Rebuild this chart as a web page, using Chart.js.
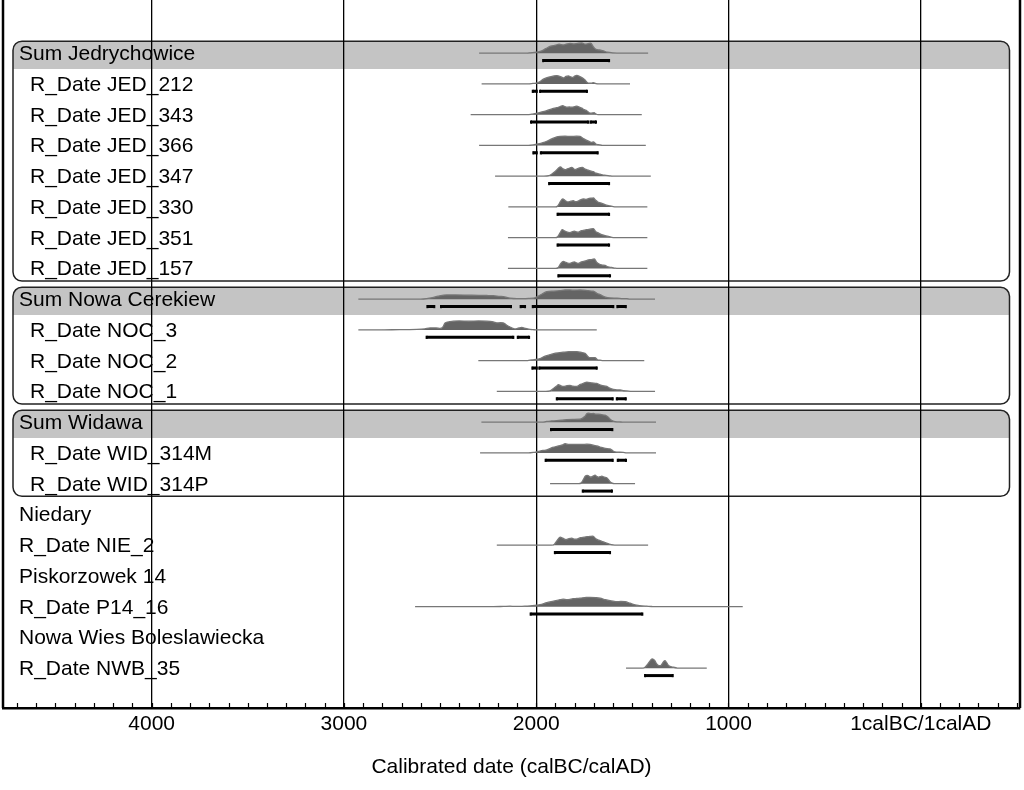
<!DOCTYPE html>
<html><head><meta charset="utf-8">
<script src="https://cdn.jsdelivr.net/npm/chart.js@4.4.1/dist/chart.umd.min.js"></script>
<style>html,body{margin:0;padding:0;background:#fff}canvas{display:block}</style>
</head><body>
<canvas id="c" width="1024" height="790"></canvas>
<script>
// ---------- labels ----------
const rowLabels = [
  "Sum Jedrychowice","R_Date JED_212","R_Date JED_343","R_Date JED_366","R_Date JED_347",
  "R_Date JED_330","R_Date JED_351","R_Date JED_157",
  "Sum Nowa Cerekiew","R_Date NOC_3","R_Date NOC_2","R_Date NOC_1",
  "Sum Widawa","R_Date WID_314M","R_Date WID_314P",
  "Niedary","R_Date NIE_2","Piskorzowek 14","R_Date P14_16",
  "Nowa Wies Boleslawiecka","R_Date NWB_35"
];
const rowIndent = [0,1,1,1,1,1,1,1, 0,1,1,1, 0,1,1, 0,0,0,0,0,0];
const groupRows = [[0,7],[8,11],[12,14]];
const majorTicks = [4000,3000,2000,1000,0];
const zeroLabel = "1calBC/1calAD";
const axisTitle = "Calibrated date (calBC/calAD)";

// ---------- probability distributions: [year calBC, relative density] ----------
const sumJed = [[2297,0],[2050,0],[2030,0.4],[2000,1],[1975,2],[1950,4.5],[1925,7],[1900,8],[1881,9],[1860,8.3],[1840,9.3],[1824,9.8],[1805,9.2],[1785,9.8],[1763,10.3],[1745,9],[1730,9.5],[1716,10],[1705,7],[1690,4],[1670,3.2],[1650,2.2],[1630,1],[1600,0.3],[1560,0],[1418,0]];
const jed212 = [[2284,0],[2040,0],[2017,0.5],[1995,1],[1980,2.5],[1960,5],[1930,7],[1893,8.3],[1870,7],[1859,6],[1845,7.5],[1833,8],[1820,7],[1810,6.5],[1800,7.8],[1789,8.5],[1770,7],[1755,5.5],[1746,4],[1735,1.5],[1725,0.8],[1712,0.8],[1703,1.3],[1690,0.4],[1675,0],[1512,0]];
const jed343 = [[2341,0],[2045,0],[2023,0.5],[2000,1.2],[1975,2.5],[1945,4],[1915,6],[1893,7],[1875,8.2],[1862,9],[1850,8],[1841,7.5],[1828,7.8],[1815,7.5],[1800,8],[1789,8.5],[1775,7.5],[1763,6.5],[1750,5],[1737,4],[1725,2],[1716,1.5],[1705,1.8],[1699,2],[1690,0.8],[1679,0],[1451,0]];
const jed366 = [[2297,0],[2040,0],[2015,0.5],[1990,1.5],[1965,2.8],[1945,4.2],[1920,6.5],[1893,8.5],[1876,9],[1850,9.2],[1820,9],[1790,9.3],[1772,9],[1755,7],[1737,5],[1720,3.5],[1711,3],[1703,3.5],[1690,1.5],[1677,0.8],[1660,0.2],[1650,0],[1430,0]];
const jed347 = [[2214,0],[1960,0],[1935,0.5],[1920,2],[1900,5],[1885,8],[1874,9.2],[1862,7.5],[1850,6.5],[1835,7.5],[1815,8.7],[1805,7.5],[1798,6.5],[1785,7.5],[1770,8.5],[1760,8.7],[1745,7],[1729,6],[1715,5],[1703,4.5],[1690,3],[1668,2],[1645,1],[1620,0.4],[1600,0],[1404,0]];
const jed330 = [[2145,0],[1900,0],[1888,1],[1875,5],[1862,8],[1850,6.5],[1835,5],[1820,5.8],[1807,6.2],[1795,5.2],[1785,5.5],[1770,7],[1755,8],[1740,7.5],[1725,8.5],[1710,8.8],[1703,9],[1692,7],[1680,5],[1665,4],[1651,3],[1635,1.8],[1616,1],[1600,0.3],[1585,0],[1422,0]];
const jed351 = [[2147,0],[1900,0],[1888,1],[1875,5],[1865,8],[1850,6.5],[1824,5],[1812,6],[1802,6.5],[1790,5.8],[1781,5.5],[1765,7],[1750,7.5],[1737,8],[1720,8.5],[1703,9],[1690,6],[1680,5],[1660,3],[1642,2],[1620,1],[1607,0.3],[1590,0],[1422,0]];
const jed157 = [[2147,0],[1900,0],[1885,1],[1872,5],[1859,7],[1845,6],[1824,5],[1812,6],[1802,6.5],[1790,5.5],[1781,5],[1765,6.5],[1745,7.5],[1729,8.5],[1715,8.8],[1698,9.5],[1685,6],[1677,5],[1660,3.5],[1642,3],[1625,1.5],[1607,1],[1590,0.3],[1573,0],[1422,0]];
const sumNoc = [[2925,0],[2600,0],[2570,0.5],[2540,1.5],[2510,3],[2466,4.3],[2420,4.3],[2350,4],[2300,3.8],[2258,3.7],[2223,3.5],[2190,2.8],[2171,2.5],[2136,1],[2100,0.5],[2075,0.5],[2040,0.8],[2015,1],[1990,3],[1971,5],[1945,7.5],[1910,8],[1876,8.5],[1850,9.2],[1824,9.3],[1800,9],[1772,9.2],[1755,9],[1730,8.5],[1703,8],[1685,6],[1668,4.5],[1640,2],[1616,1.2],[1580,1],[1550,0.6],[1529,0.5],[1512,0],[1382,0]];
const noc3 = [[2925,0],[2864,0],[2750,0.2],[2620,0.5],[2580,1],[2552,2],[2520,2],[2500,1.5],[2485,3],[2474,7],[2450,8.3],[2431,8.8],[2400,9],[2350,8.8],[2300,9],[2258,8.8],[2240,8.5],[2223,8],[2205,7],[2185,7.2],[2171,7],[2155,5],[2136,3],[2120,1.5],[2110,1],[2090,2],[2075,2.5],[2055,1.5],[2032,0.5],[2010,0.2],[1997,0],[1685,0]];
const noc2 = [[2301,0],[2050,0],[2032,0.5],[2010,1],[1980,2],[1960,4],[1928,6],[1900,7.5],[1859,8.5],[1830,9],[1789,9],[1760,8],[1746,7.5],[1730,4],[1720,3],[1708,3],[1694,3],[1682,1],[1668,0.5],[1650,0],[1438,0]];
const noc1 = [[2205,0],[1950,0],[1928,0.5],[1910,3],[1893,5.5],[1885,6.7],[1870,5.5],[1859,5],[1840,5.8],[1824,6],[1810,5.2],[1789,5],[1770,7],[1750,8.5],[1737,9.4],[1710,8.5],[1685,8],[1660,6],[1633,5],[1615,3],[1599,2],[1580,1.5],[1564,1.5],[1545,0.7],[1529,0.5],[1503,0],[1382,0]];
const sumWid = [[2285,0],[1970,0],[1946,0.8],[1920,1.2],[1893,1.5],[1865,2],[1841,2.5],[1810,2.8],[1772,3],[1760,4],[1746,6],[1737,8.5],[1729,9],[1715,8.5],[1703,8.7],[1690,8],[1677,8],[1660,7.5],[1642,7],[1625,5],[1616,3],[1600,1],[1590,0.5],[1560,0.2],[1529,0],[1377,0]];
const wid314M = [[2292,0],[2040,0],[2015,0.5],[1990,1.5],[1965,2.5],[1945,3],[1915,5.5],[1885,7],[1862,8],[1850,9.3],[1830,8.5],[1800,8.5],[1789,8.5],[1760,8.5],[1737,8.8],[1720,8.5],[1700,7.5],[1685,7],[1660,5.5],[1640,4.5],[1616,4],[1600,2],[1590,1],[1565,0.7],[1547,0.5],[1530,0],[1377,0]];
const wid314P = [[1928,0],[1780,0],[1765,1],[1755,4],[1745,7.5],[1734,8.3],[1725,7.5],[1716,6.5],[1705,7.5],[1694,8.5],[1685,7.2],[1677,6.5],[1668,7],[1659,7.5],[1645,6.5],[1633,6],[1622,3.5],[1616,2],[1605,0.5],[1595,0],[1486,0]];
const nie2 = [[2205,0],[1920,0],[1905,1],[1890,5],[1875,8],[1862,7],[1845,5.5],[1830,6.5],[1815,7],[1800,6],[1790,6],[1770,7.5],[1750,8],[1735,8.5],[1720,8.8],[1705,9],[1690,6.5],[1675,5],[1655,3.5],[1640,2.5],[1620,1.2],[1600,0.3],[1585,0],[1418,0]];
const p14_16 = [[2630,0],[2250,0],[2170,0.3],[2136,0.5],[2110,0.3],[2084,0.3],[2050,0.6],[2032,0.8],[2000,1.5],[1980,2],[1945,4],[1910,5.5],[1876,7],[1860,7.5],[1841,7],[1820,7.5],[1807,8],[1790,8.2],[1772,8.5],[1740,9.2],[1720,9.3],[1690,9],[1668,8.5],[1640,7],[1616,6],[1600,5.5],[1581,5],[1560,5.2],[1538,5],[1512,3.5],[1490,2],[1477,1.5],[1450,0.8],[1425,0.5],[1400,0.2],[1373,0],[926,0]];
const nwb35 = [[1533,0],[1450,0],[1434,1],[1420,4],[1405,8],[1396,9.3],[1385,8],[1372,4],[1361,2.5],[1350,3],[1338,6.5],[1330,7.5],[1320,5],[1313,3],[1300,1.5],[1287,1],[1270,0.3],[1261,0],[1113,0]];

// ---------- 95.4% ranges: [from, to] calBC ----------
const sumJedR = [[1964,1621]];
const jed212R = [[2018,1997],[1980,1736]];
const jed343R = [[2027,1729],[1717,1689]];
const jed366R = [[2015,1997],[1976,1680]];
const jed347R = [[1933,1621]];
const jed330R = [[1889,1621]];
const jed351R = [[1889,1621]];
const jed157R = [[1885,1616]];
const sumNocR = [[2566,2530],[2495,2131],[2081,2058],[2018,1599],[1578,1534]];
const noc3R = [[2570,2119],[2096,2037]];
const noc2R = [[2020,1997],[1984,1685]];
const noc1R = [[1893,1602],[1581,1534]];
const sumWidR = [[1923,1604]];
const wid314MR = [[1951,1602],[1576,1533]];
const wid314PR = [[1758,1606]];
const nie2R = [[1903,1616]];
const p14_16R = [[2029,1448]];
const nwb35R = [[1434,1290]];

// row index -> [distribution, ranges]
const plotted = [
  [0,sumJed,sumJedR],[1,jed212,jed212R],[2,jed343,jed343R],[3,jed366,jed366R],[4,jed347,jed347R],
  [5,jed330,jed330R],[6,jed351,jed351R],[7,jed157,jed157R],
  [8,sumNoc,sumNocR],[9,noc3,noc3R],[10,noc2,noc2R],[11,noc1,noc1R],
  [12,sumWid,sumWidR],[13,wid314M,wid314MR],[14,wid314P,wid314PR],
  [16,nie2,nie2R],[18,p14_16,p14_16R],[20,nwb35,nwb35R]
];

// ---------- build ----------
const DENS = 1/30.75;   // density unit -> row fraction
const BAR_OFF = 0.24;   // range bar below baseline (rows)
const FONT = "'Liberation Sans', Arial, Helvetica, sans-serif";
const FS = 21;

const datasets = [];
plotted.forEach(([row, dist]) => {
  datasets.push({
    data: dist.map(([x,h]) => ({x, y: row - h*DENS})),
    fill: {value: row},
    backgroundColor: '#646464',
    borderColor: '#777777',
    borderWidth: 1.3,
    pointRadius: 0,
    cubicInterpolationMode: 'monotone'
  });
});
plotted.forEach(([row, , rng]) => {
  const pts = [];
  rng.forEach(([a,b], i) => {
    if (i) pts.push({x: (rng[i-1][1] + a)/2, y: null});
    pts.push({x:a, y: row + BAR_OFF}, {x:b, y: row + BAR_OFF});
  });
  datasets.push({
    data: pts, fill: false, spanGaps: false,
    borderColor: '#000', borderWidth: 3, borderCapStyle: 'butt',
    pointStyle: 'line', rotation: 90, pointRadius: 1.6,
    pointBorderWidth: 2, pointBorderColor: '#000', pointBackgroundColor: '#000'
  });
});

const decor = {
  id: 'decor',
  beforeDraw(chart) {
    const {ctx, chartArea: a, scales: {y}} = chart;
    ctx.save();
    const L = a.left + 10, R = a.right - 10.5, rad = 9;
    groupRows.forEach(([s,e]) => {
      const top = y.getPixelForValue(s - 0.39);
      const band = y.getPixelForValue(s + 0.51);
      const bot = y.getPixelForValue(e + 0.41);
      ctx.fillStyle = '#c4c4c4';
      ctx.beginPath();
      ctx.moveTo(L, band);
      ctx.lineTo(L, top + rad);
      ctx.arcTo(L, top, L + rad, top, rad);
      ctx.lineTo(R - rad, top);
      ctx.arcTo(R, top, R, top + rad, rad);
      ctx.lineTo(R, band);
      ctx.closePath();
      ctx.fill();
      ctx.strokeStyle = '#222';
      ctx.lineWidth = 1.5;
      ctx.beginPath();
      ctx.roundRect(L, top, R - L, bot - top, rad);
      ctx.stroke();
    });
    ctx.restore();
  },
  beforeDatasetsDraw(chart) {
    const {ctx, chartArea: a, scales: {y}} = chart;
    ctx.save();
    ctx.fillStyle = '#000';
    ctx.font = FS + 'px ' + FONT;
    ctx.textBaseline = 'alphabetic';
    ctx.textAlign = 'left';
    rowLabels.forEach((t, i) => {
      ctx.fillText(t, a.left + 16 + rowIndent[i]*11, y.getPixelForValue(i) + 7);
    });
    ctx.restore();
  },
  afterDraw(chart) {
    const {ctx, chartArea: a, scales: {x}} = chart;
    ctx.save();
    ctx.strokeStyle = '#000';
    ctx.lineWidth = 1.2;
    x.ticks.forEach(t => {
      if (t.value % 100 !== 0) return;
      const px = Math.round(x.getPixelForValue(t.value)) + 0.5;
      ctx.beginPath(); ctx.moveTo(px, a.bottom); ctx.lineTo(px, a.bottom - 5); ctx.stroke();
    });
    ctx.lineWidth = 2.5;
    ctx.beginPath();
    ctx.moveTo(a.left, 0); ctx.lineTo(a.left, a.bottom);
    ctx.moveTo(a.right, 0); ctx.lineTo(a.right, a.bottom);
    ctx.stroke();
    ctx.restore();
  }
};

new Chart(document.getElementById('c'), {
  type: 'line',
  data: {datasets},
  options: {
    responsive: false, animation: false,
    layout: {autoPadding: false, padding: {left: 3, right: 4, top: 0, bottom: 0}},
    plugins: {legend: {display: false}, tooltip: {enabled: false}},
    scales: {
      x: {
        type: 'linear', reverse: true, min: -516, max: 4773,
        afterFit(s) { s.height = 82; },
        ticks: {
          stepSize: 100, autoSkip: false, maxRotation: 0, includeBounds: false,
          color: '#000', padding: 4,
          font: {family: FONT, size: FS},
          callback: v => majorTicks.includes(v) ? (v === 0 ? zeroLabel : String(v)) : ''
        },
        grid: {
          drawTicks: false, lineWidth: 1.3,
          color: c => (c.tick && majorTicks.includes(c.tick.value)) ? '#000' : 'rgba(0,0,0,0)'
        },
        border: {display: true, color: '#000', width: 2.5},
        title: {display: true, text: axisTitle, color: '#000',
                font: {family: FONT, size: FS}, padding: {top: 0, bottom: 10}}
      },
      y: {
        type: 'linear', reverse: true, min: -1.730, max: 21.294,
        display: false
      }
    }
  },
  plugins: [decor]
});
</script>
</body></html>
